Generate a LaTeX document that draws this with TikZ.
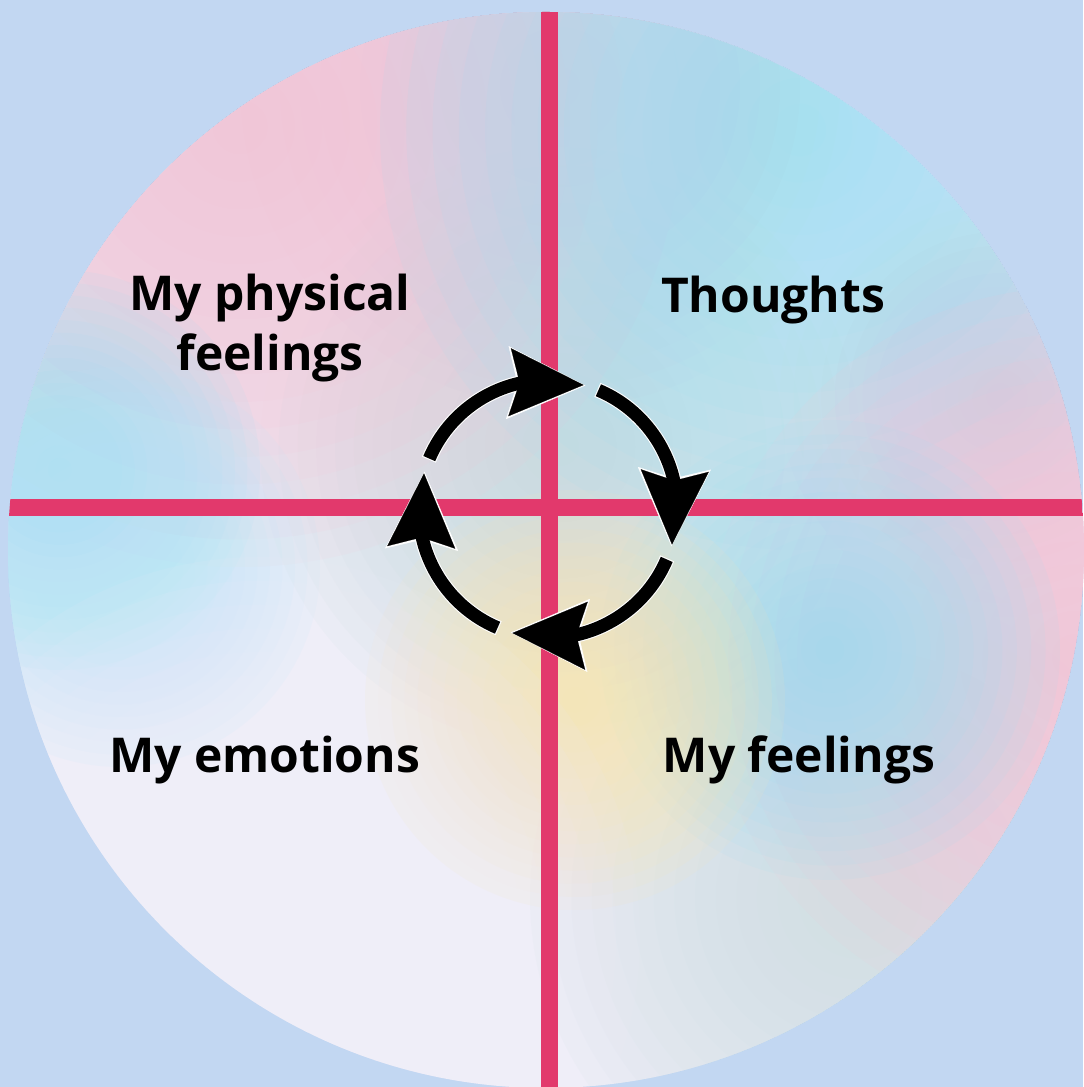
\documentclass[tikz,border=0pt]{standalone}
\usepackage{fontspec}
\setmainfont{Open Sans}
\usepackage{tikz}
\usetikzlibrary{arrows.meta,bending}
\definecolor{skybg}{HTML}{C2D7F2}
\definecolor{crossred}{HTML}{E2396C}
\definecolor{discbase}{HTML}{EFEEF8}
\definecolor{blushpink}{HTML}{F9C3D6}
\definecolor{lilac}{HTML}{D8CDE2}
\definecolor{iceblue}{HTML}{9FE0F4}
\definecolor{paleblue}{HTML}{BBE7FB}
\definecolor{sandyellow}{HTML}{FCE5B2}
\definecolor{mistgrey}{HTML}{C6DBDF}
\definecolor{fogteal}{HTML}{CFE0E4}

\begin{document}
\begin{tikzpicture}[
  x=0.5pt, y=0.5pt,
  quadtext/.style={font=\fontsize{24}{30}\selectfont\bfseries, align=center, inner sep=0pt},
  veil/.style={fill opacity=0.1},
  crossbar/.style={draw=crossred, line width=8.5pt},
  halo/.style={draw=white, line width=7.6pt, -{Stealth[length=39pt,width=36.5pt,inset=5pt,line width=0.1pt]}},
  cyclearrow/.style={draw=black, line width=6.5pt, -{Stealth[length=37pt,width=34pt,inset=5pt,line width=0.1pt]}}
]
  \useasboundingbox (0,0) rectangle (1083,1087);
  \fill[skybg] (0,0) rectangle (1083,1087);

  \coordinate (mid) at (546,537);
  \coordinate (hub) at (548,578);

  % disc with soft colour patches
  \begin{scope}
    \clip (mid) circle[radius=538];
    \fill[discbase] (mid) circle[radius=538];
    \foreach \px/\py/\reach/\col in {
        560/1000/320/lilac, 1000/690/220/lilac,
        560/640/300/mistgrey, 860/190/330/fogteal,
        240/960/440/blushpink, 800/957/420/iceblue,
        1075/430/370/blushpink, 830/437/230/iceblue,
        60/617/200/iceblue, 120/520/200/paleblue,
        575/387/210/sandyellow, 260/150/380/discbase}
      \foreach \k in {1,...,16}
        \fill[\col, veil] (\px,\py) circle[radius=\reach*\k/16];

    % cross
    \coordinate (ctop) at (549,1087);
    \coordinate (cbot) at (549,0);
    \coordinate (cleft) at (0,579.5);
    \coordinate (cright) at (1083,579.5);
    \draw[crossbar] (ctop) -- (cbot);
    \draw[crossbar] (cleft) -- (cright);
  \end{scope}

  % labels
  \node[quadtext] (physical) at (270,759) {My physical\\feelings};
  \node[quadtext, anchor=base] (thoughts) at (773,774) {Thoughts};
  \node[quadtext, anchor=base] (emotions) at (264.5,314) {My emotions};
  \node[quadtext, anchor=base] (feelings) at (799,314) {My feelings};

  % cycle
  \foreach \a in {157,67,-23,-113}
    \draw[halo] ([shift={(\a+0.5:129)}]hub) arc[start angle=\a+0.5, end angle=\a-83.8, radius=129];
  \foreach \a in {157,67,-23,-113}
    \draw[cyclearrow] ([shift={(\a:129)}]hub) arc[start angle=\a, end angle=\a-83, radius=129];
\end{tikzpicture}
\end{document}
